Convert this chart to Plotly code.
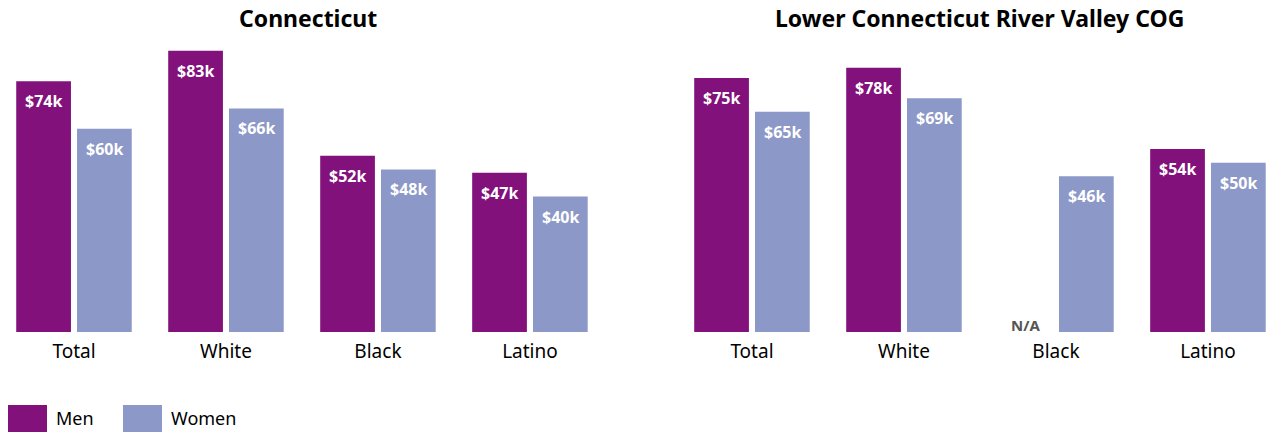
import plotly.graph_objects as go

categories = ["Total", "White", "Black", "Latino"]
ct_men = [74, 83, 52, 47]
ct_women = [60, 66, 48, 40]
cog_men = [75, 78, None, 54]
cog_women = [65, 69, 46, 50]
titles = ["Connecticut", "Lower Connecticut River Valley COG"]

MEN = "#82117b"
WOMEN = "#8c98c7"
FONT = "Noto Sans"
W, H = 1270, 434

fig = go.Figure()

panels = [
    ("x", "y", ct_men, ct_women, [10, 600], [-0.421, 3.461]),
    ("x2", "y2", cog_men, cog_women, [686, 1266], [-0.434, 3.382]),
]

annotations = []
for i, (xa, ya, men, women, dom, rng) in enumerate(panels):
    fig.add_trace(go.Bar(x=categories, y=men,
                         name="Men", marker_color=MEN, marker_line_width=0, xaxis=xa, yaxis=ya,
                         showlegend=False, hoverinfo="skip"))
    fig.add_trace(go.Bar(x=categories, y=women, name="Women", marker_color=WOMEN,
                         marker_line_width=0,
                         xaxis=xa, yaxis=ya, showlegend=False, hoverinfo="skip"))
    for cat, mv, wv in zip(categories, men, women):
        for val, shift in ((mv, -30.5), (wv, 30.5)):
            if val is None:
                annotations.append(dict(x=cat, y=0, xref=xa, yref=ya, text="<b>N/A</b>",
                                        showarrow=False, xshift=shift, yshift=7,
                                        font=dict(family=FONT, size=15, color="#555555")))
            else:
                annotations.append(dict(x=cat, y=val, xref=xa, yref=ya, text=f"<b>${val}k</b>",
                                        showarrow=False, xshift=shift, yshift=-20,
                                        font=dict(family=FONT, size=16, color="white")))
    # title
    cx = (dom[0] + 6 + dom[1]) / 2 / W
    annotations.append(dict(x=cx, y=1 - 18 / H, xref="paper", yref="paper", text=f"<b>{titles[i]}</b>",
                            showarrow=False, xanchor="center", yanchor="middle",
                            font=dict(family=FONT, size=23, color="black")))

ydom = [(H - 332) / H, (H - 40) / H]
axis_common = dict(type="category", showgrid=False, zeroline=False, showline=False, ticks="",
                   ticklabelstandoff=6,
                   tickfont=dict(family=FONT, size=19, color="black"))
yaxis_common = dict(range=[0, 86.2], visible=False, showgrid=False, zeroline=False)

fig.update_layout(
    width=W, height=H,
    margin=dict(l=0, r=0, t=0, b=0),
    paper_bgcolor="white", plot_bgcolor="white",
    barmode="group", bargap=0.2, bargroupgap=0.1,
    xaxis=dict(domain=[10 / W, 600 / W], range=[-0.421, 3.461], anchor="y", **axis_common),
    xaxis2=dict(domain=[686 / W, 1266 / W], range=[-0.434, 3.382], anchor="y2", **axis_common),
    yaxis=dict(domain=ydom, anchor="x", **yaxis_common),
    yaxis2=dict(domain=ydom, anchor="x2", **yaxis_common),
    annotations=annotations,
)

# custom legend
legend_items = [("Men", MEN, 8), ("Women", WOMEN, 123)]
for name, color, x0 in legend_items:
    fig.add_shape(type="rect", xref="paper", yref="paper",
                  x0=x0 / W, x1=(x0 + 39) / W, y0=(H - 432) / H, y1=(H - 405) / H,
                  fillcolor=color, line=dict(width=0))
    fig.add_annotation(x=(x0 + 46) / W, y=(H - 418) / H, xref="paper", yref="paper",
                       text=name, showarrow=False, xanchor="left", yanchor="middle",
                       font=dict(family=FONT, size=18, color="black"))

fig.write_html("out.html", config={"displayModeBar": False},
               post_script="document.body.style.margin='0';document.body.style.overflow='hidden';")
